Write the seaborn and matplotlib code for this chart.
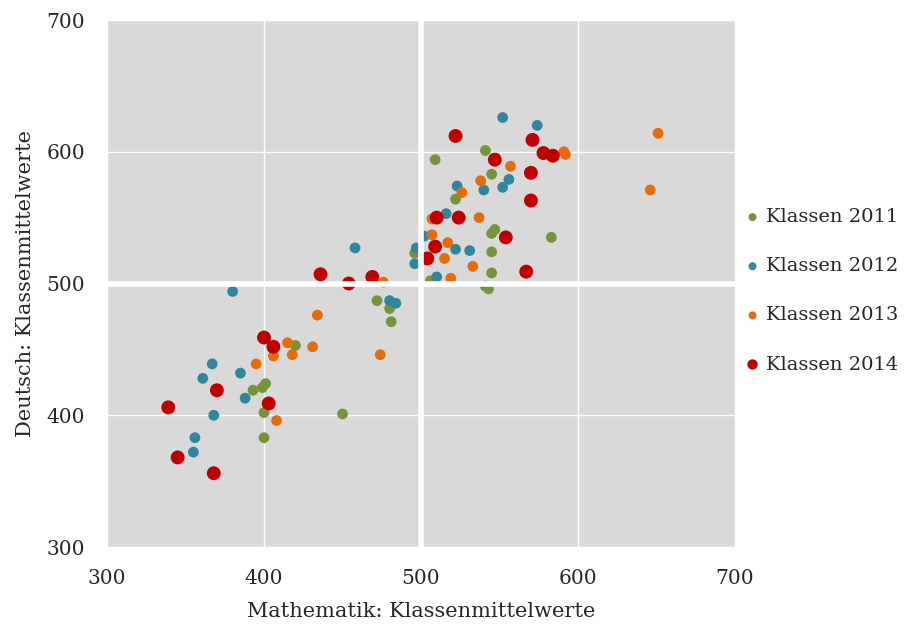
import matplotlib
matplotlib.use("Agg")
import matplotlib.pyplot as plt
import pandas as pd
import seaborn as sns

# Klassenmittelwerte (Mathematik, Deutsch)
math_2011 = [509, 541, 545, 522, 547, 545, 583, 545, 496, 545, 506, 541, 543,
             472, 480, 481, 420, 393, 399, 401, 400, 450, 400]
deu_2011 = [594, 601, 583, 564, 541, 538, 535, 524, 523, 508, 502, 498, 496,
            487, 481, 471, 453, 419, 421, 424, 402, 401, 383]

math_2012 = [552, 574, 556, 523, 552, 540, 516, 502, 497, 522, 531, 496, 510,
             458, 380, 480, 484, 367, 385, 361, 388, 368, 356, 355]
deu_2012 = [626, 620, 579, 574, 573, 571, 553, 536, 527, 526, 525, 515, 505,
            527, 494, 487, 485, 439, 432, 428, 413, 400, 383, 372]

math_2013 = [651, 591, 592, 557, 538, 526, 646, 507, 537, 507, 517, 515, 533,
             519, 476, 434, 415, 431, 406, 418, 474, 395, 408]
deu_2013 = [614, 600, 598, 589, 578, 569, 571, 549, 550, 537, 531, 519, 513,
            504, 501, 476, 455, 452, 445, 446, 446, 439, 396]

math_2014 = [522, 571, 578, 584, 547, 570, 570, 510, 524, 554, 509, 504, 567,
             436, 469, 454, 400, 406, 370, 403, 339, 345, 368]
deu_2014 = [612, 609, 599, 597, 594, 584, 563, 550, 550, 535, 528, 519, 509,
            507, 505, 500, 459, 452, 419, 409, 406, 368, 356]

series = [
    ("Klassen 2011", math_2011, deu_2011, "#77933C", 60),
    ("Klassen 2012", math_2012, deu_2012, "#31859C", 60),
    ("Klassen 2013", math_2013, deu_2013, "#E46C0A", 60),
    ("Klassen 2014", math_2014, deu_2014, "#C00000", 100),
]

sns.set_style("whitegrid", {"axes.facecolor": "#D9D9D9", "grid.color": "white",
                            "axes.edgecolor": "#D9D9D9"})
plt.rcParams["font.family"] = ["DejaVu Serif"]

fig = plt.figure(figsize=(9.09, 6.31), dpi=100)
ax = fig.add_axes([0.1177, 0.1331, 0.6909, 0.8352])

for name, mx, dy, col, s in series:
    df = pd.DataFrame({"x": mx, "y": dy})
    sns.scatterplot(data=df, x="x", y="y", color=col, s=s, edgecolor="none",
                    label=name, ax=ax)

ax.set_xlim(300, 700)
ax.set_ylim(300, 700)
ax.set_xticks([300, 400, 500, 600, 700])
ax.set_yticks([300, 400, 500, 600, 700])
ax.grid(True, color="white", lw=1)
ax.set_axisbelow(True)
ax.axvline(500, color="white", lw=4, zorder=1)
ax.axhline(500, color="white", lw=4, zorder=1)
for sp in ax.spines.values():
    sp.set_visible(False)
ax.tick_params(axis="both", length=0, pad=16, labelsize=14.5)
ax.set_xlabel("Mathematik: Klassenmittelwerte", fontsize=15, labelpad=10)
ax.set_ylabel("Deutsch: Klassenmittelwerte", fontsize=15, labelpad=8)

leg = ax.legend(loc="center left", bbox_to_anchor=(1.0, 0.486), frameon=False,
                fontsize=14, handlelength=0.9, handletextpad=0.25,
                labelspacing=1.6, borderaxespad=0.25, borderpad=0.2)
for h, (_, _, _, _, s) in zip(leg.legend_handles, series):
    h.set_sizes([s * 0.55])

fig.savefig("out.png", dpi=100)
